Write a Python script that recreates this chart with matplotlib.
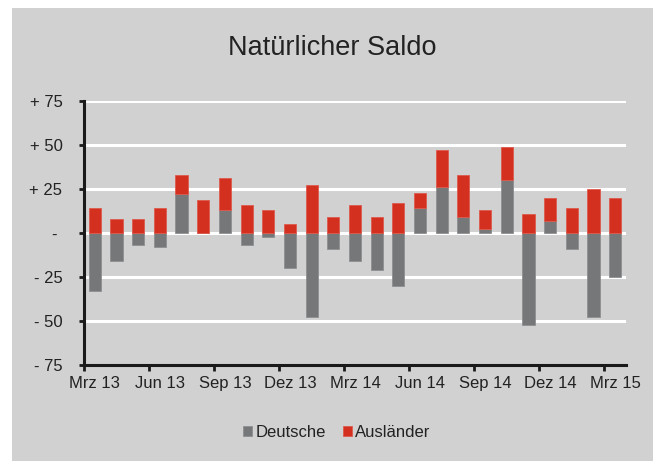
import numpy as np
import matplotlib
matplotlib.use("Agg")
import matplotlib.pyplot as plt
from matplotlib.patches import Rectangle

plt.rcParams["font.family"] = ["Liberation Sans", "DejaVu Sans"]

# monthly values Mrz 13 .. Mrz 15
months = ["Mrz 13", "Apr 13", "Mai 13", "Jun 13", "Jul 13", "Aug 13", "Sep 13", "Okt 13",
          "Nov 13", "Dez 13", "Jan 14", "Feb 14", "Mrz 14", "Apr 14", "Mai 14", "Jun 14",
          "Jul 14", "Aug 14", "Sep 14", "Okt 14", "Nov 14", "Dez 14", "Jan 15", "Feb 15", "Mrz 15"]
deutsche = [-33, -16, -7, -8, 22, 0, 13, -7, -2, -20, -48, -9, -16, -21, -30,
            14, 26, 9, 2, 30, -52, 7, -9, -48, -25]
auslaender = [14, 8, 8, 14, 11, 19, 18, 16, 13, 5, 27, 9, 16, 9, 17,
              9, 21, 24, 11, 19, 11, 13, 14, 25, 20]
ytick_vals = [-75, -50, -25, 0, 25, 50, 75]
ytick_labels = ["- 75", "- 50", "- 25", "- ", "+ 25", "+ 50", "+ 75"]

BG = "#d0d1d0"
GREY = "#767778"
RED = "#d33020"

fig = plt.figure(figsize=(6.53, 4.61), dpi=100, facecolor="white")
fig.patches.append(Rectangle((12 / 653, 0), 1, 1 - 8 / 461, transform=fig.transFigure,
                             facecolor=BG, edgecolor="none", zorder=-1))
ax = fig.add_axes([84 / 653, 1 - 365 / 461, (626 - 84) / 653, (365 - 101) / 461])
ax.set_facecolor(BG)

x = np.arange(len(months))
d = np.array(deutsche)
a = np.array(auslaender)
ax.bar(x, d, width=0.56, color=GREY, edgecolor="#8e8f90", lw=0.6, zorder=3, label="Deutsche")
ax.bar(x, a, width=0.56, bottom=np.maximum(d, 0), color=RED, edgecolor="#de5a4c", lw=0.6,
       zorder=3, label="Ausländer")

ax.set_xlim(-0.5, len(months) - 0.5)
ax.set_ylim(-75, 75)
for v in ytick_vals[1:]:
    ax.axhline(v, color="white", lw=2.2, zorder=1)

ax.set_yticks(ytick_vals)
ax.set_yticklabels(ytick_labels)
ax.set_xticks(np.arange(-0.5, len(months), 3))
ax.set_xticklabels([])
ax.set_xticks(x[::3], minor=True)
ax.set_xticklabels([months[i] for i in x[::3]], minor=True)
ax.tick_params(axis="x", which="major", direction="out", length=4, width=2, color="#1a1a1a")
ax.tick_params(axis="x", which="minor", length=0, pad=8, labelsize=12, labelcolor="#222222")
ax.tick_params(axis="y", direction="out", length=3.5, width=2, color="#1a1a1a",
               pad=12, labelsize=12, labelcolor="#222222")

for s in ["top", "right"]:
    ax.spines[s].set_visible(False)
for s in ["left", "bottom"]:
    ax.spines[s].set_linewidth(2.2)
    ax.spines[s].set_color("#1a1a1a")
    ax.spines[s].set_zorder(4)

fig.text(332 / 653, 1 - 48 / 461, "Natürlicher Saldo", ha="center", va="center",
         fontsize=19.5, color="#222222")

fig.legend(loc="center", bbox_to_anchor=(337 / 653, 1 - 432 / 461), ncol=2, frameon=False,
           fontsize=12, handlelength=0.55, handleheight=0.55, handletextpad=0.2,
           columnspacing=1.0, labelcolor="#222222")

fig.savefig("out.png", dpi=100, facecolor="white")
